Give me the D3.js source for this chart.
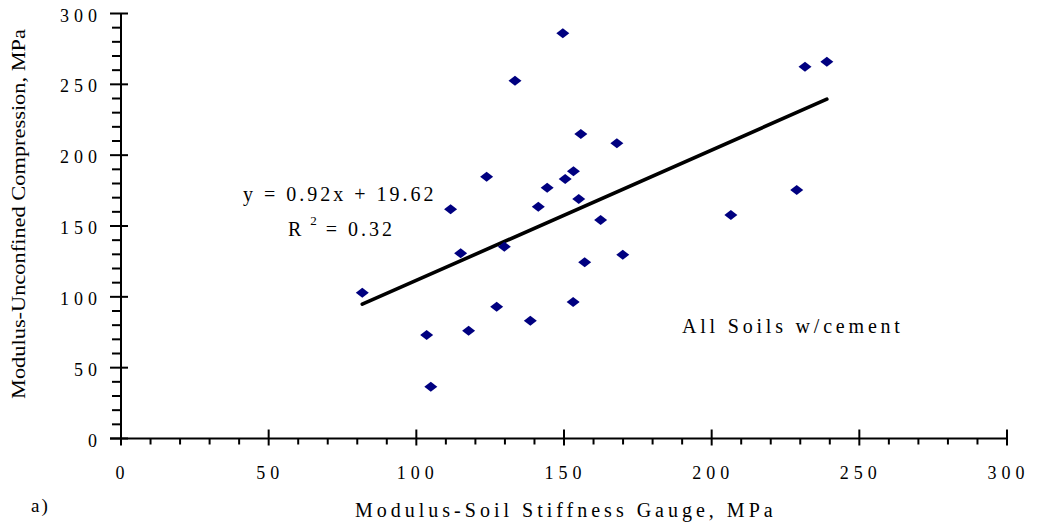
<!DOCTYPE html>
<html><head><meta charset="utf-8">
<script src="https://cdn.jsdelivr.net/npm/d3@7"></script>
<style>
html,body{margin:0;padding:0;background:#fff;}
svg{display:block;}
text{font-family:"Liberation Serif","Times New Roman",serif;fill:#000;}
</style></head>
<body>
<svg id="chart" width="1038" height="527"></svg>
<script>
// Data
const stiffnessGauge = [81.7,103.5,104.9,111.6,115.0,117.7,123.8,127.2,129.8,133.4,138.6,141.3,144.3,149.6,150.4,153.2,153.1,155.0,155.7,157.0,162.4,167.9,169.9,206.5,228.8,231.6,239.0];
const unconfinedComp = [102.9,73.1,36.6,161.8,130.7,76.1,184.8,93.0,135.4,252.6,83.2,163.6,177.0,286.0,183.2,188.6,96.4,169.1,214.9,124.4,154.2,208.4,129.7,157.8,175.4,262.4,266.0];
const trendSlope = 0.92;
const trendIntercept = 19.62;
const xTicks = [0,50,100,150,200,250,300];
const yTicks = [0,50,100,150,200,250,300];
const equationLabel = "y = 0.92x + 19.62";
const r2Value = "= 0.32";
const annotation = "All Soils w/cement";
const xTitle = "Modulus-Soil Stiffness Gauge, MPa";
const yTitle = "Modulus-Unconfined Compression, MPa";
const panelLabel = "a)";

const svg = d3.select("#chart");
const m = {left:121, right:31, top:13.5, bottom:88.5};
const W = 1038, H = 527;
const x = d3.scaleLinear().domain([0,300]).range([m.left, W - m.right]);
const y = d3.scaleLinear().domain([0,300]).range([H - m.bottom, m.top]);

const tickFont = "18px";
const tickLS = 5;

// Y axis
const yAxisG = svg.append("g");
yAxisG.append("line").attr("x1", x(0)).attr("x2", x(0)).attr("y1", y(300)).attr("y2", y(0))
  .attr("stroke","#000").attr("stroke-width",2);
const yMinor = d3.range(0,301,10).filter(v => v % 50 !== 0);
yAxisG.selectAll("line.ymin").data(yMinor).join("line")
  .attr("x1", x(0)-9).attr("x2", x(0)).attr("y1", d=>y(d)).attr("y2", d=>y(d))
  .attr("stroke","#000").attr("stroke-width",2);
yAxisG.selectAll("line.ymaj").data(yTicks).join("line")
  .attr("x1", x(0)-11).attr("x2", x(0)+7).attr("y1", d=>y(d)).attr("y2", d=>y(d))
  .attr("stroke","#000").attr("stroke-width",2);
yAxisG.selectAll("text").data(yTicks).join("text")
  .attr("x", 97 + tickLS).attr("y", d=>y(d)+8)
  .attr("text-anchor","end").style("font-size",tickFont).style("letter-spacing",tickLS+"px")
  .text(d=>d);

// X axis
const xAxisG = svg.append("g");
xAxisG.append("line").attr("x1", x(0)-11).attr("x2", x(300)).attr("y1", y(0)).attr("y2", y(0))
  .attr("stroke","#000").attr("stroke-width",2);
const xMinor = d3.range(0,301,10).filter(v => v % 50 !== 0);
xAxisG.selectAll("line.xmin").data(xMinor).join("line")
  .attr("x1", d=>x(d)).attr("x2", d=>x(d)).attr("y1", y(0)).attr("y2", y(0)+6)
  .attr("stroke","#000").attr("stroke-width",2);
xAxisG.selectAll("line.xmaj").data(xTicks).join("line")
  .attr("x1", d=>x(d)).attr("x2", d=>x(d)).attr("y1", y(0)-9).attr("y2", y(0)+7)
  .attr("stroke","#000").attr("stroke-width",2);
xAxisG.selectAll("text").data(xTicks).join("text")
  .attr("x", d=>x(d) + tickLS/2 - 1).attr("y", y(0)+40)
  .attr("text-anchor","middle").style("font-size",tickFont).style("letter-spacing",tickLS+"px")
  .text(d=>d);

// Trend line
const xmin = d3.min(stiffnessGauge), xmax = d3.max(stiffnessGauge);
svg.append("line")
  .attr("x1", x(xmin)).attr("y1", y(trendSlope*xmin + trendIntercept))
  .attr("x2", x(xmax)).attr("y2", y(trendSlope*xmax + trendIntercept))
  .attr("stroke","#000").attr("stroke-width",3.6).attr("stroke-linecap","round");

// Points (diamonds)
const pts = stiffnessGauge.map((v,i)=>({x:v, y:unconfinedComp[i]}));
svg.selectAll("path.pt").data(pts).join("path")
  .attr("class","pt")
  .attr("transform", d=>`translate(${x(d.x)},${y(d.y)})`)
  .attr("d","M0,-5 L6.5,0 L0,5 L-6.5,0 Z")
  .attr("fill","#000080");

// Equation text
svg.append("text").attr("x", 243).attr("y", 201)
  .style("font-size","20px").style("letter-spacing","3px").text(equationLabel);
const r2 = svg.append("text").attr("x", 288).attr("y", 236)
  .style("font-size","20px").style("letter-spacing","3px");
r2.append("tspan").text("R");
r2.append("tspan").attr("dx", 6).attr("dy", -11).style("font-size","13px").text("2");
r2.append("tspan").attr("dx", 6).attr("dy", 11).text(r2Value);

// Annotation
svg.append("text").attr("x", 682).attr("y", 333)
  .style("font-size","20px").style("letter-spacing","3.8px").text(annotation);

// Axis titles
svg.append("text").attr("x", 355).attr("y", 517)
  .style("font-size","20px").style("letter-spacing","4px").text(xTitle);
svg.append("text").attr("transform","translate(25,214) rotate(-90)")
  .attr("text-anchor","middle")
  .style("font-size","19px")
  .attr("textLength", 370).attr("lengthAdjust","spacingAndGlyphs")
  .text(yTitle);

// Panel label
svg.append("text").attr("x", 31).attr("y", 512)
  .style("font-size","19px").style("letter-spacing","2px").text(panelLabel);
</script>
</body></html>
